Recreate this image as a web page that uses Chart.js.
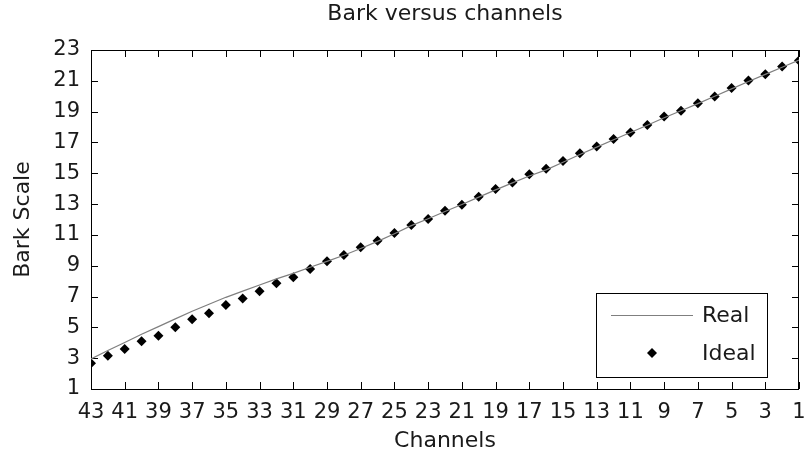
<!DOCTYPE html>
<html>
<head>
<meta charset="utf-8">
<script src="https://cdn.jsdelivr.net/npm/chart.js@4.4.1/dist/chart.umd.min.js"></script>
<style>
  html, body { margin: 0; padding: 0; background: #fff; }
  canvas { display: block; }
</style>
</head>
<body>
<canvas id="c" width="804" height="459"></canvas>
<script>
// Filter-bank channels, highest first (the axis runs 43 -> 1)
const channels = [43, 42, 41, 40, 39, 38, 37, 36, 35, 34, 33, 32, 31, 30, 29, 28, 27, 26, 25, 24, 23, 22,
                  21, 20, 19, 18, 17, 16, 15, 14, 13, 12, 11, 10, 9, 8, 7, 6, 5, 4, 3, 2, 1];

// Bark value of each channel: target design
const idealBark = [2.67, 3.16, 3.60, 4.10, 4.46, 5.00, 5.53, 5.92, 6.45, 6.88, 7.35, 7.86, 8.25, 8.78,
                   9.29, 9.69, 10.20, 10.62, 11.13, 11.65, 12.03, 12.57, 12.95, 13.47, 13.98, 14.40,
                   14.94, 15.29, 15.80, 16.30, 16.73, 17.23, 17.64, 18.14, 18.68, 19.05, 19.55, 19.98,
                   20.53, 21.02, 21.43, 21.93, 22.32];

// Bark value of each channel: as implemented
const realBark = [2.95, 3.50, 4.02, 4.55, 5.05, 5.55, 6.05, 6.50, 6.95, 7.35, 7.75, 8.15, 8.50, 8.90,
                  9.28, 9.68, 10.12, 10.58, 11.08, 11.60, 12.05, 12.52, 12.97, 13.45, 13.92, 14.38,
                  14.82, 15.22, 15.72, 16.22, 16.70, 17.18, 17.65, 18.12, 18.60, 19.06, 19.52, 20.00,
                  20.48, 20.96, 21.42, 21.88, 22.35];

const xTickValues = [43, 41, 39, 37, 35, 33, 31, 29, 27, 25, 23, 21, 19, 17, 15, 13, 11, 9, 7, 5, 3, 1];
const yTickValues = [1, 3, 5, 7, 9, 11, 13, 15, 17, 19, 21, 23];

const seriesNames = ['Real', 'Ideal'];
const chartTitle = 'Bark versus channels';
const xTitle = 'Channels';
const yTitle = 'Bark Scale';

const FAMILY = '"DejaVu Sans", "Liberation Sans", sans-serif';
const INK = '#1a1a1a';
const LINE_GREY = '#7f7f7f';
const DIAMOND_R = 5;

function diamond(ctx, x, y, r) {
  ctx.beginPath();
  ctx.moveTo(x, y - r);
  ctx.lineTo(x + r, y);
  ctx.lineTo(x, y + r);
  ctx.lineTo(x - r, y);
  ctx.closePath();
  ctx.fill();
}

// Boxed axes with inward tick marks on all four sides, plus the title
const axesBox = {
  id: 'axesBox',
  beforeDatasetsDraw(chart) {
    const { ctx, chartArea: a, scales: { x, y } } = chart;
    const L = 7;
    ctx.save();
    ctx.strokeStyle = '#000';
    ctx.lineWidth = 1;
    ctx.beginPath();
    x.ticks.forEach(t => {
      const px = Math.round(x.getPixelForValue(t.value)) + 0.5;
      ctx.moveTo(px, a.bottom); ctx.lineTo(px, a.bottom - L);
      ctx.moveTo(px, a.top); ctx.lineTo(px, a.top + L);
    });
    y.ticks.forEach(t => {
      const py = Math.round(y.getPixelForValue(t.value)) + 0.5;
      ctx.moveTo(a.left, py); ctx.lineTo(a.left + L, py);
      ctx.moveTo(a.right, py); ctx.lineTo(a.right - L, py);
    });
    ctx.stroke();
    ctx.strokeRect(a.left + 0.5, a.top + 0.5, a.right - a.left - 1, a.bottom - a.top);
    ctx.restore();
  },
  afterDraw(chart) {
    const { ctx, chartArea: a } = chart;
    ctx.save();
    ctx.fillStyle = INK;
    ctx.font = '22px ' + FAMILY;
    ctx.textAlign = 'center';
    ctx.textBaseline = 'middle';
    ctx.fillText(chartTitle, (a.left + a.right) / 2, 14);
    ctx.restore();
  }
};

// Legend box inside the lower-right corner of the axes
const insetLegend = {
  id: 'insetLegend',
  afterDatasetsDraw(chart) {
    const { ctx, chartArea: a } = chart;
    const ds = chart.data.datasets;
    const bx = a.right - 203, by = a.bottom - 96, bw = 171, bh = 84;
    ctx.save();
    ctx.fillStyle = '#fff';
    ctx.fillRect(bx, by, bw, bh);
    ctx.strokeStyle = '#000';
    ctx.lineWidth = 1;
    ctx.strokeRect(bx + 0.5, by + 0.5, bw, bh);

    // line entry
    ctx.strokeStyle = ds[0].borderColor;
    ctx.lineWidth = ds[0].borderWidth;
    ctx.beginPath();
    ctx.moveTo(bx + 15, by + 22.5);
    ctx.lineTo(bx + 97, by + 22.5);
    ctx.stroke();

    // marker entry
    ctx.fillStyle = ds[1].backgroundColor;
    diamond(ctx, bx + 56, by + 60, DIAMOND_R);

    ctx.fillStyle = INK;
    ctx.font = '22px ' + FAMILY;
    ctx.textAlign = 'left';
    ctx.textBaseline = 'middle';
    ctx.fillText(ds[0].label, bx + 106, by + 23);
    ctx.fillText(ds[1].label, bx + 106, by + 61);
    ctx.restore();
  }
};

new Chart(document.getElementById('c'), {
  type: 'scatter',
  data: {
    datasets: [
      {
        label: seriesNames[0],
        data: channels.map((c, i) => ({ x: c, y: realBark[i] })),
        showLine: true,
        borderColor: LINE_GREY,
        borderWidth: 1.2,
        pointRadius: 0,
        pointHoverRadius: 0,
        fill: false,
        tension: 0
      },
      {
        label: seriesNames[1],
        data: channels.map((c, i) => ({ x: c, y: idealBark[i] })),
        showLine: false,
        pointStyle: 'rectRot',
        pointRadius: DIAMOND_R,
        pointHoverRadius: DIAMOND_R,
        backgroundColor: '#000',
        borderColor: '#000',
        borderWidth: 0
      }
    ]
  },
  options: {
    responsive: false,
    animation: false,
    events: [],
    layout: { padding: { top: 50, right: 3, left: 0, bottom: 0 } },
    plugins: {
      legend: { display: false },
      tooltip: { enabled: false },
      title: { display: false }
    },
    scales: {
      x: {
        type: 'linear',
        reverse: true,
        min: 1,
        max: 43,
        afterBuildTicks: s => { s.ticks = xTickValues.map(v => ({ value: v })); },
        afterFit: s => { s.height = 70; s.paddingLeft = 0; s.paddingRight = 0; },
        grid: { display: false, drawTicks: false },
        border: { display: false },
        ticks: { autoSkip: false, maxRotation: 0, padding: 11, color: INK, font: { family: FAMILY, size: 21 } },
        title: { display: true, text: xTitle, color: INK, font: { family: FAMILY, size: 22 }, padding: { top: 0, bottom: 5 } }
      },
      y: {
        type: 'linear',
        min: 1,
        max: 23,
        afterBuildTicks: s => { s.ticks = yTickValues.map(v => ({ value: v })); },
        afterFit: s => { s.width = 91; s.paddingTop = 0; s.paddingBottom = 0; },
        grid: { display: false, drawTicks: false },
        border: { display: false },
        ticks: { autoSkip: false, padding: 11, color: INK, font: { family: FAMILY, size: 21 } },
        title: { display: true, text: yTitle, color: INK, font: { family: FAMILY, size: 22 }, padding: { top: 10, bottom: 0 } }
      }
    }
  },
  plugins: [axesBox, insetLegend]
});
</script>
</body>
</html>
